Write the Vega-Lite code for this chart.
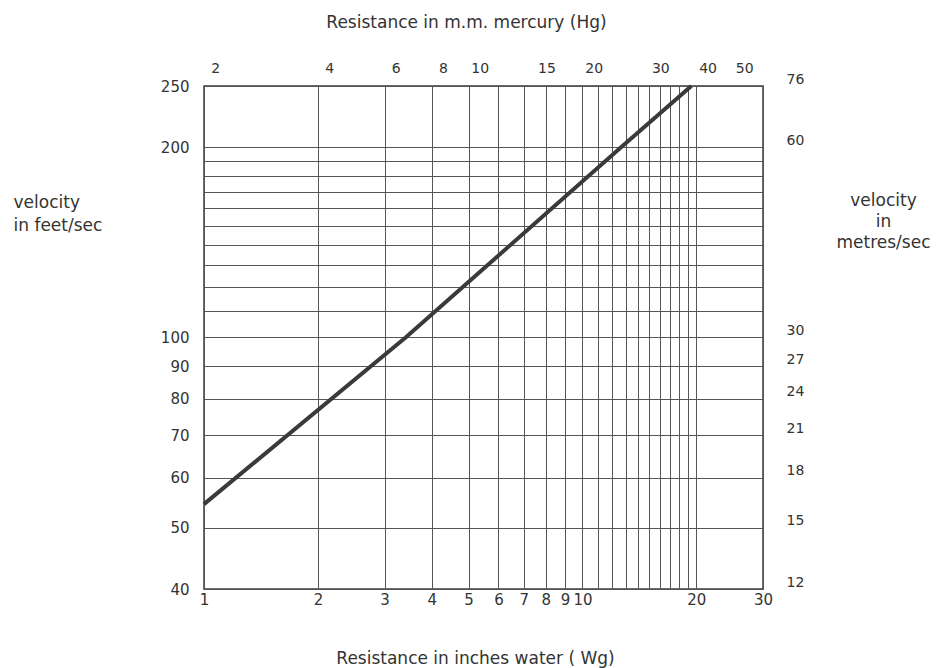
{
  "$schema": "https://vega.github.io/schema/vega-lite/v6.json",
  "width": 559,
  "height": 503,
  "autosize": {"type": "none"},
  "padding": {"left": 204, "top": 86, "right": 173, "bottom": 79},
  "background": "white",
  "config": {
    "view": {"stroke": "#3c3c3c", "strokeWidth": 1.5},
    "axis": {
      "labelFont": "DejaVu Sans",
      "titleFont": "DejaVu Sans",
      "labelColor": "#333333",
      "titleColor": "#333333",
      "titleFontWeight": "normal",
      "domain": false,
      "ticks": false,
      "gridColor": "#555555",
      "gridWidth": 1,
      "gridOpacity": 1,
      "labelOverlap": false,
      "labelFlush": false
    }
  },
  "data": {
    "values": [
      {"wg": 1, "fps": 54.5},
      {"wg": 3.41, "fps": 100},
      {"wg": 12.65, "fps": 200},
      {"wg": 19.4, "fps": 250}
    ]
  },
  "layer": [
    {
      "mark": {"type": "line", "color": "#3a3a3a", "strokeWidth": 4},
      "encoding": {
        "x": {
          "field": "wg",
          "type": "quantitative",
          "scale": {"type": "log", "domain": [1, 30], "nice": false},
          "axis": {
            "orient": "bottom",
            "values": [1, 2, 3, 4, 5, 6, 7, 8, 9, 10, 11, 12, 13, 14, 15, 16, 17, 18, 19, 20, 30],
            "grid": true,
            "labelExpr": "datum.value > 10 && datum.value < 20 ? '' : format(datum.value, 'd')",
            "labelFontSize": 15,
            "labelPadding": 3,
            "title": "Resistance in inches water ( Wg)",
            "titleFontSize": 17,
            "titleX": 271,
            "titleY": 69,
            "titleBaseline": "middle",
            "titleAlign": "center"
          }
        },
        "y": {
          "field": "fps",
          "type": "quantitative",
          "scale": {"type": "log", "domain": [40, 250], "nice": false},
          "axis": {
            "orient": "left",
            "values": [40, 50, 60, 70, 80, 90, 100, 110, 120, 130, 140, 150, 160, 170, 180, 190, 200, 250],
            "grid": true,
            "labelExpr": "datum.value > 100 && datum.value < 200 ? '' : format(datum.value, 'd')",
            "labelFontSize": 15,
            "labelPadding": 15,
            "labelBaseline": "middle",
            "title": ["velocity", "in feet/sec"],
            "titleFontSize": 17,
            "titleAngle": 0,
            "titleAlign": "left",
            "titleBaseline": "top",
            "titleLineHeight": 23,
            "titleX": -191,
            "titleY": 108
          }
        }
      }
    },
    {
      "mark": {"type": "line", "opacity": 0},
      "encoding": {
        "x": {
          "field": "wg",
          "type": "quantitative",
          "axis": {
            "orient": "top",
            "values": [1.0707, 2.1413, 3.212, 4.2827, 5.3533, 8.03, 10.7066, 16.06, 21.4133, 26.7666],
            "grid": false,
            "labelExpr": "format(datum.value * 1.868, '.0f')",
            "labelFontSize": 14,
            "labelPadding": 11,
            "title": "Resistance in m.m. mercury (Hg)",
            "titleFontSize": 17,
            "titleX": 262,
            "titleY": -64,
            "titleBaseline": "middle",
            "titleAlign": "center"
          }
        },
        "y": {
          "field": "fps",
          "type": "quantitative",
          "axis": {
            "orient": "right",
            "values": [40, 50, 60, 70, 80, 90, 100, 200, 250],
            "grid": false,
            "labelExpr": "format(floor(datum.value * 0.3048), 'd')",
            "labelFontSize": 14,
            "labelPadding": 23,
            "labelOffset": -7,
            "labelBaseline": "middle",
            "title": ["velocity", "in", "metres/sec"],
            "titleFontSize": 17,
            "titleAngle": 0,
            "titleAlign": "center",
            "titleBaseline": "top",
            "titleLineHeight": 21,
            "titleX": 120,
            "titleY": 106
          }
        }
      }
    }
  ],
  "resolve": {"axis": {"x": "independent", "y": "independent"}}
}
